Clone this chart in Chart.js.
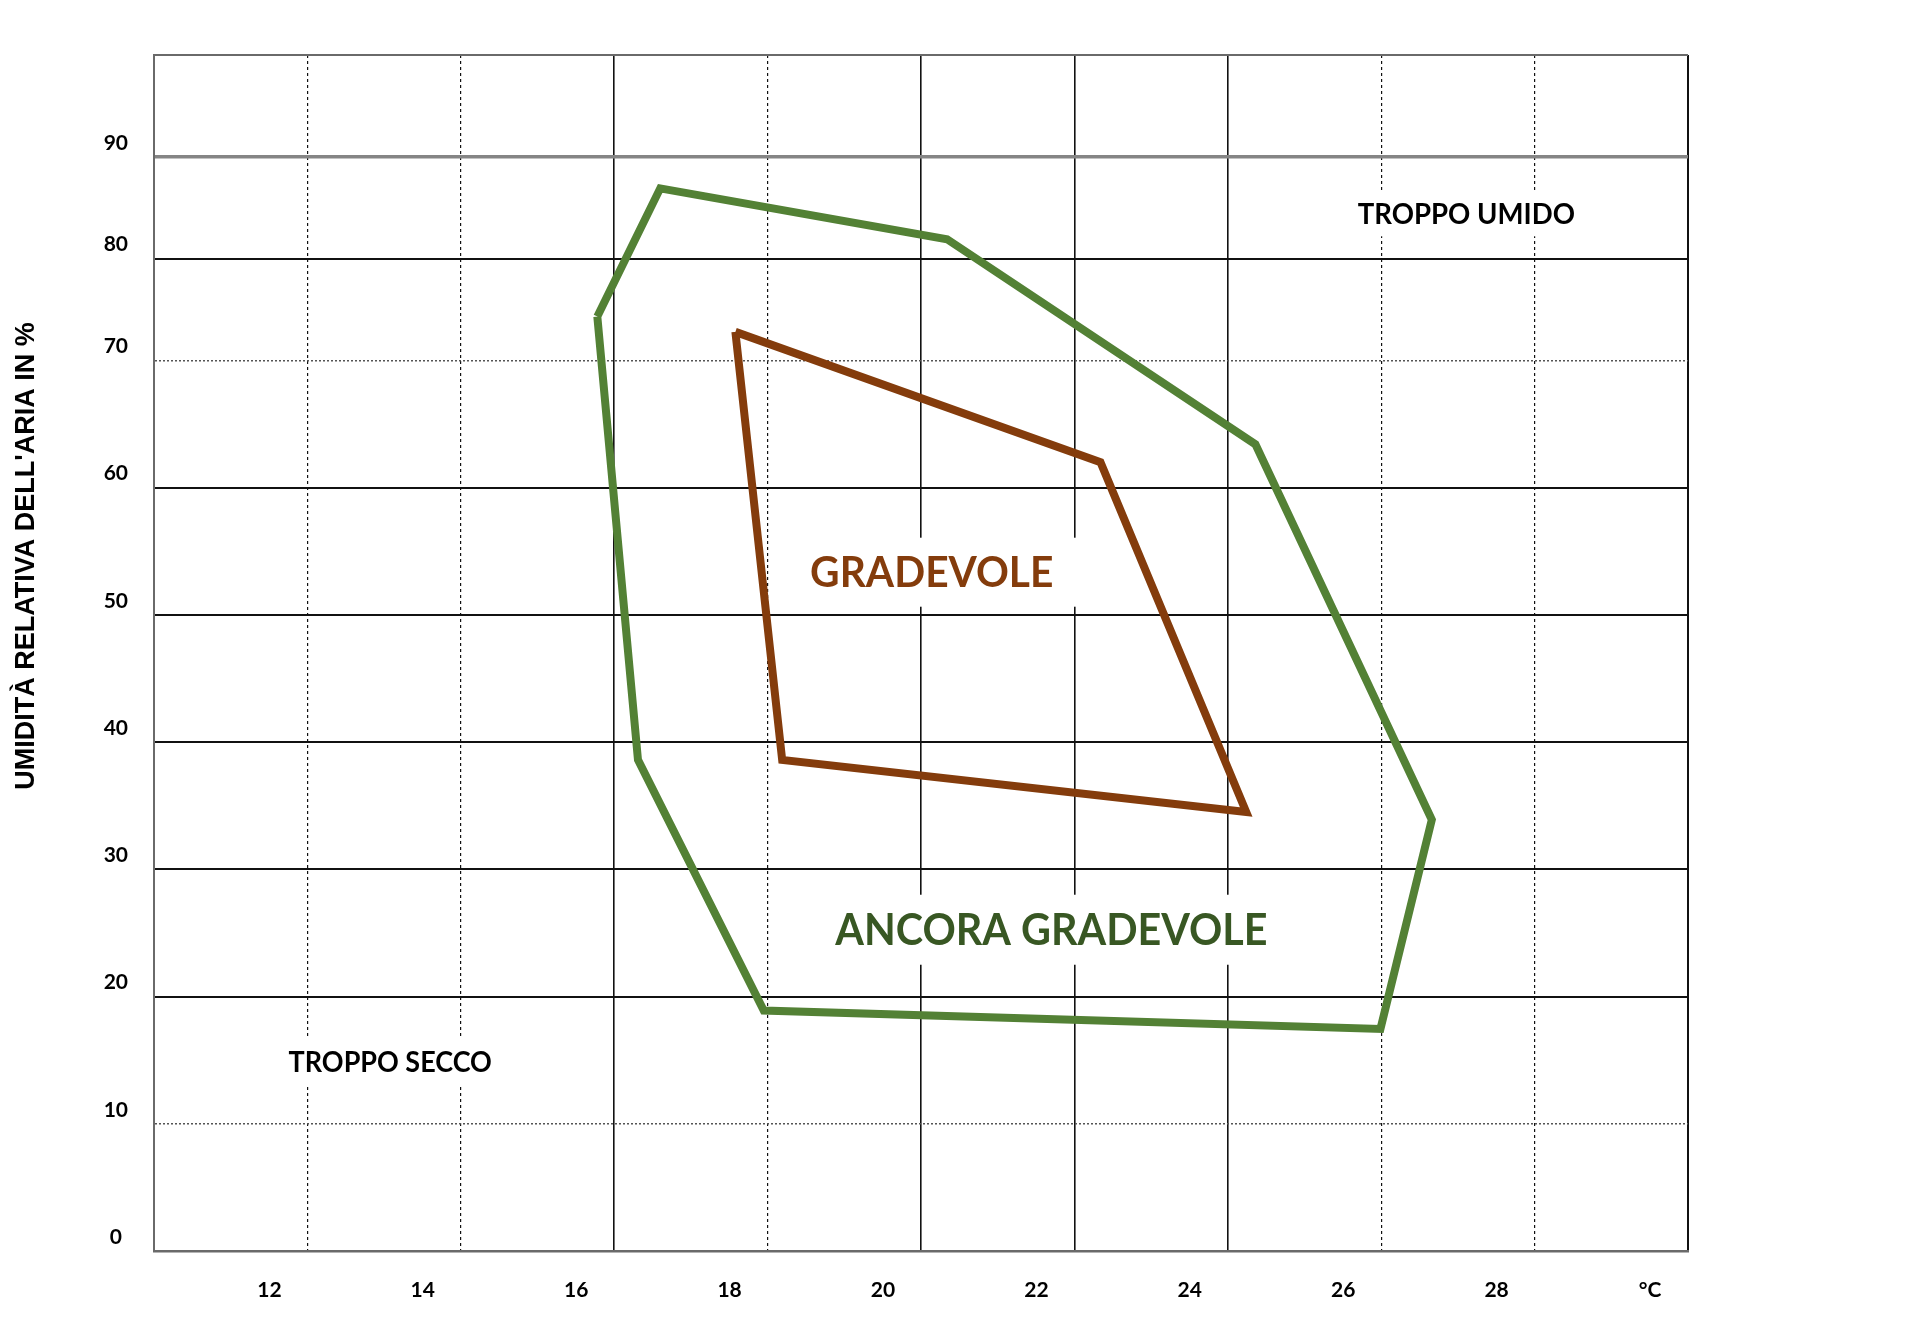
<!DOCTYPE html>
<html>
<head>
<meta charset="utf-8">
<title>Benessere termoigrometrico</title>
<script src="https://cdn.jsdelivr.net/npm/chart.js@4/dist/chart.umd.min.js"></script>
<style>
  html, body { margin: 0; padding: 0; background: #fff; }
  #wrap { width: 1920px; height: 1330px; }
</style>
</head>
<body>
<div id="wrap"><canvas id="comfortchart"></canvas></div>
<script>
// vertici delle due zone (temperatura in °C, umidità relativa in %)
const greenTemp = [16.28, 17.10, 20.84, 24.86, 27.16, 26.49, 18.45, 16.81, 16.28];
const greenHum  = [74.3, 86.9, 81.9, 63.4, 33.9, 17.45, 18.9, 38.6, 74.3];
const brownTemp = [18.08, 22.84, 24.74, 18.69, 18.08];
const brownHum  = [72.8, 62.0, 34.5, 38.6, 72.8];

// linee verticali della griglia e relative etichette
const tempGrid   = [10.5, 12.5, 14.5, 16.5, 18.5, 20.5, 22.5, 24.5, 26.5, 28.5, 30.5];
const tempLabels = ['', '12', '14', '16', '18', '20', '22', '24', '26', '28', '°C'];
const tempSolid  = [16.5, 20.5, 22.5, 24.5];

// linee orizzontali
const humDotted = [10, 70];
const humDouble = [90];

const zoneLabels = [
  { text: 'TROPPO UMIDO', x: 27.61, y: 84.4, color: '#000000', size: 29, boxH: 45, squeeze: 0.95 },
  { text: 'TROPPO SECCO', x: 13.58, y: 14.87, color: '#000000', size: 29, boxH: 46, squeeze: 0.93 },
  { text: 'GRADEVOLE', x: 20.64, y: 53.35, color: '#843C0C', size: 42, boxH: 69, squeeze: 0.97 },
  { text: 'ANCORA GRADEVOLE', x: 22.20, y: 25.25, color: '#385723', size: 43, boxH: 70, squeeze: 0.96 }
];

// sopra il 70% la scala dell'umidità è più compressa
const humBreak = 70;
const humLowStretch = 1.25;

class HumidityScale extends Chart.LinearScale {
  span() {
    return humBreak * humLowStretch + (this.max - humBreak);
  }
  getPixelForValue(value) {
    if (value === null || value === undefined) return NaN;
    const u = value <= humBreak ? value * humLowStretch : humBreak * humLowStretch + (value - humBreak);
    return this.getPixelForDecimal(u / this.span());
  }
  getValueForPixel(pixel) {
    const u = this.getDecimalForPixel(pixel) * this.span();
    const lim = humBreak * humLowStretch;
    return u <= lim ? u / humLowStretch : humBreak + (u - lim);
  }
}
HumidityScale.id = 'humidity';
HumidityScale.defaults = Chart.LinearScale.defaults;
Chart.register(HumidityScale);

const toPoints = (xs, ys) => xs.map((x, i) => ({ x: x, y: ys[i] }));

const tickFont = { family: 'Lato', weight: 'bold', size: 21 };

const zoneLabelPlugin = {
  id: 'zoneLabels',
  beforeDatasetsDraw(chart) {
    const { ctx, scales } = chart;
    zoneLabels.forEach((z) => {
      const px = scales.x.getPixelForValue(z.x);
      const py = scales.y.getPixelForValue(z.y);
      ctx.save();
      ctx.font = 'bold ' + z.size + 'px Lato';
      const w = ctx.measureText(z.text).width * z.squeeze;
      ctx.fillStyle = '#fff';
      ctx.fillRect(px - w / 2 - 25, py - z.boxH / 2, w + 50, z.boxH);
      ctx.translate(px, py + z.size * 0.36);
      ctx.scale(z.squeeze, 1);
      ctx.fillStyle = z.color;
      ctx.textAlign = 'center';
      ctx.textBaseline = 'alphabetic';
      ctx.fillText(z.text, 0, 0);
      ctx.restore();
    });
  }
};

const yTitlePlugin = {
  id: 'yTitle',
  afterDraw(chart) {
    const ctx = chart.ctx;
    ctx.save();
    ctx.translate(27, 556);
    ctx.rotate(-Math.PI / 2);
    ctx.font = 'bold 27px "Liberation Sans"';
    ctx.fillStyle = '#000';
    ctx.textAlign = 'center';
    ctx.textBaseline = 'middle';
    ctx.fillText("UMIDITÀ RELATIVA DELL'ARIA IN %", 0, 0);
    ctx.restore();
  }
};

new Chart(document.getElementById('comfortchart'), {
  type: 'scatter',
  data: {
    datasets: [
      {
        label: 'Ancora gradevole',
        data: toPoints(greenTemp, greenHum),
        showLine: true,
        borderColor: '#538135',
        borderWidth: 8,
        borderJoinStyle: 'miter',
        pointRadius: 0,
        fill: false
      },
      {
        label: 'Gradevole',
        data: toPoints(brownTemp, brownHum),
        showLine: true,
        borderColor: '#843C0C',
        borderWidth: 8,
        borderJoinStyle: 'miter',
        pointRadius: 0,
        fill: false
      }
    ]
  },
  options: {
    responsive: true,
    maintainAspectRatio: false,
    animation: false,
    layout: { padding: { left: 0, right: 232, top: 55, bottom: 0 } },
    plugins: {
      legend: { display: false },
      tooltip: { enabled: false }
    },
    scales: {
      x: {
        type: 'linear',
        min: 10.5,
        max: 30.5,
        afterBuildTicks: (s) => { s.ticks = tempGrid.map((v) => ({ value: v })); },
        afterFit: (s) => { s.height = 79; },
        grid: {
          drawTicks: false,
          color: (c) => {
            const v = c.tick.value;
            if (v === tempGrid[0]) return '#6a6a6a';
            return '#111';
          },
          lineWidth: (c) => {
            const v = c.tick.value;
            if (v === tempGrid[0] || v === tempGrid[tempGrid.length - 1]) return 2;
            return tempSolid.includes(v) ? 1.6 : 1.2;
          }
        },
        border: {
          display: true,
          color: '#6a6a6a',
          width: 2.5,
          dash: (c) => {
            if (!c.tick) return [];
            const v = c.tick.value;
            if (v === tempGrid[0] || v === tempGrid[tempGrid.length - 1] || tempSolid.includes(v)) return [];
            return [3, 3];
          }
        },
        ticks: {
          callback: (v, i) => tempLabels[i],
          labelOffset: -38,
          padding: 27,
          autoSkip: false,
          maxRotation: 0,
          color: '#000',
          font: tickFont
        }
      },
      y: {
        type: 'humidity',
        min: 0,
        max: 100,
        afterFit: (s) => { s.width = 154; },
        grid: {
          drawTicks: false,
          color: (c) => {
            const v = c.tick.value;
            if (v === 100 || v === 0) return '#6a6a6a';
            if (humDouble.includes(v)) return '#858585';
            if (humDotted.includes(v)) return '#555';
            return '#111';
          },
          lineWidth: (c) => {
            const v = c.tick.value;
            if (humDouble.includes(v)) return 3.5;
            if (humDotted.includes(v)) return 1.5;
            return 2;
          }
        },
        border: {
          display: true,
          color: '#6a6a6a',
          width: 2,
          dash: (c) => (c.tick && humDotted.includes(c.tick.value) ? [2, 2] : [])
        },
        ticks: {
          stepSize: 10,
          callback: (v) => (v === 100 ? '' : v),
          labelOffset: -14,
          padding: 26,
          crossAlign: 'center',
          color: '#000',
          font: tickFont
        }
      }
    }
  },
  plugins: [zoneLabelPlugin, yTitlePlugin]
});
</script>
</body>
</html>
